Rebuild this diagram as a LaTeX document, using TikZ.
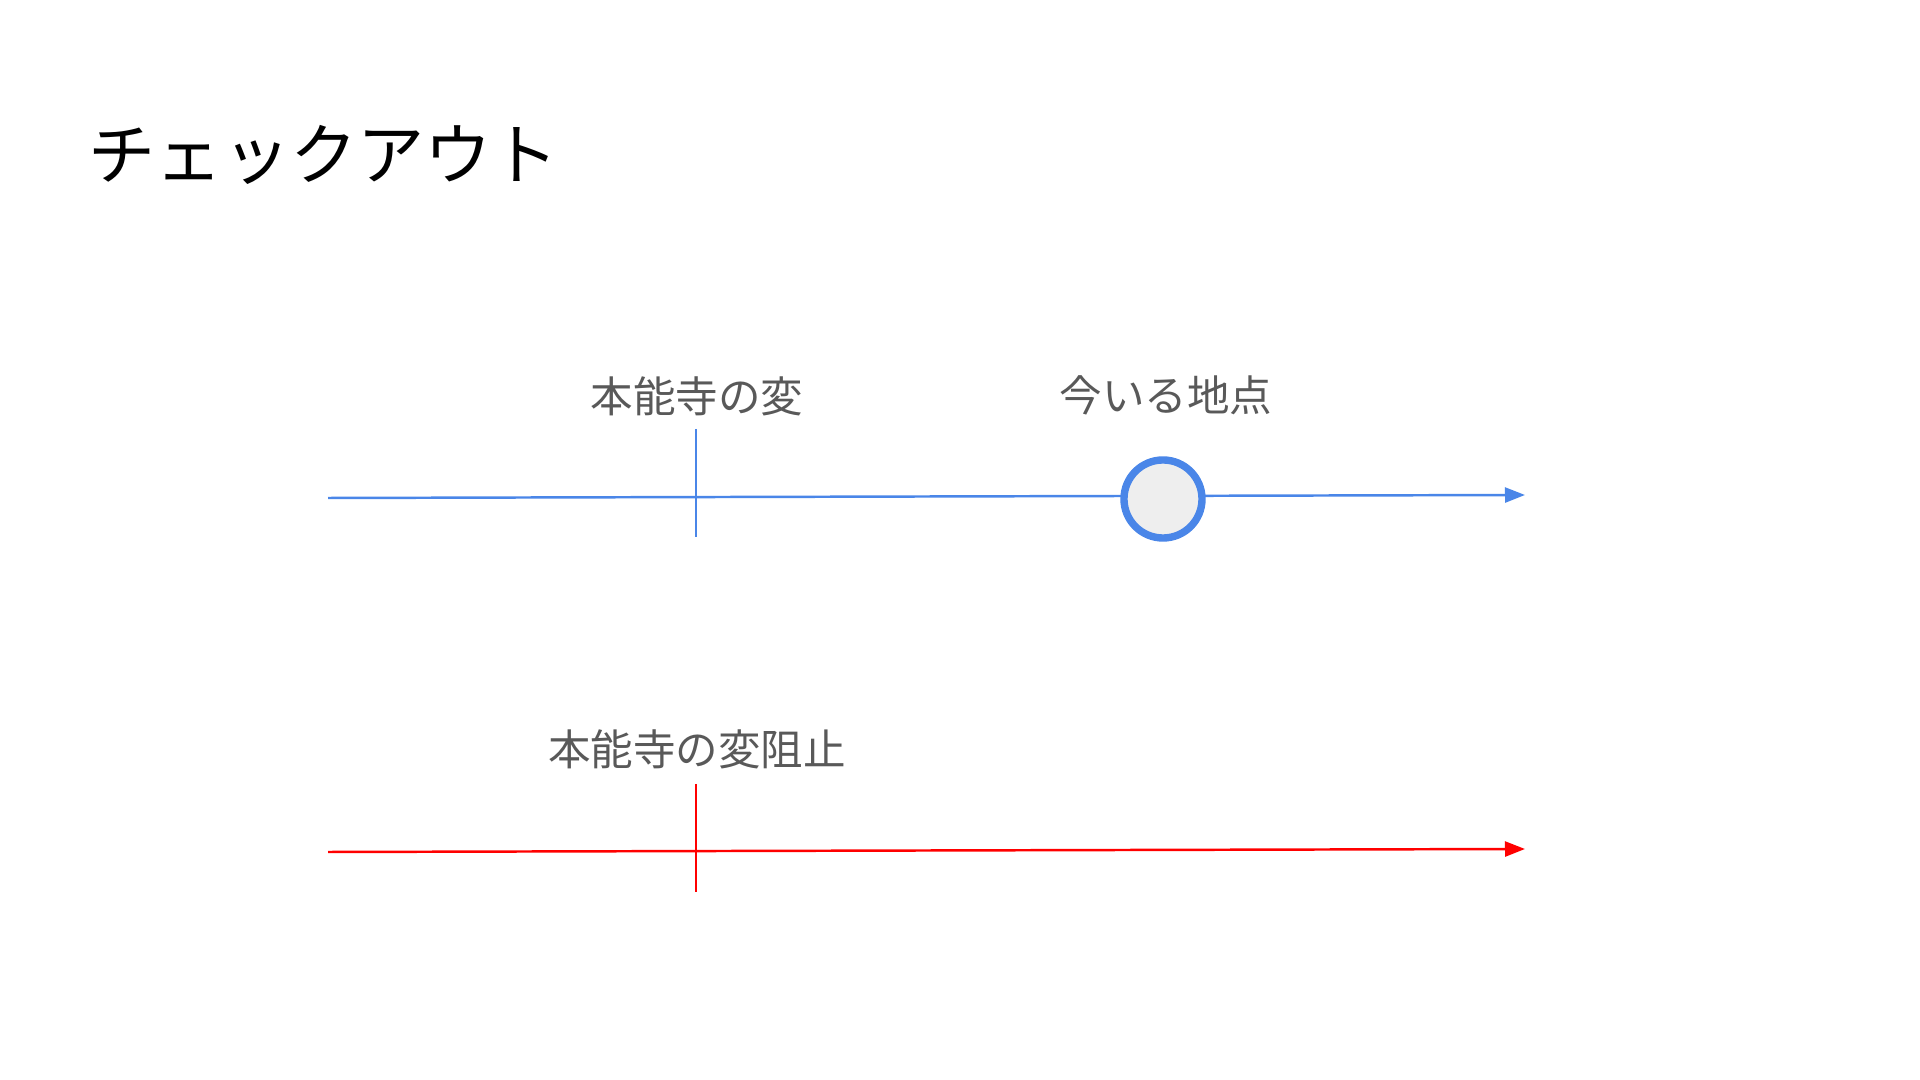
\documentclass[tikz,border=0pt]{standalone}
\usepackage{fontspec}
\newfontfamily\jpfont{Noto Sans CJK JP}
\usetikzlibrary{arrows.meta}
\definecolor{lineblue}{HTML}{4A86E8}
\definecolor{linered}{HTML}{FF0000}
\definecolor{labelgray}{HTML}{595959}
\definecolor{nowfill}{HTML}{EEEEEE}
\tikzset{
  titletext/.style={inner sep=0pt, font=\jpfont\fontsize{19.1}{23}\selectfont},
  tagtext/.style={inner sep=0pt, text=labelgray, font=\jpfont\fontsize{12.1}{15}\selectfont},
  timeline/.style={line width=0.7pt, -{Triangle[length=2mm,width=1.5mm]}},
  tickline/.style={line width=0.5pt},
  nowdot/.style={circle, draw=lineblue, fill=nowfill, line width=2.1pt, minimum size=7.8mm}
}
\begin{document}
\begin{tikzpicture}[x=0.01cm, y=-0.01cm]
    \useasboundingbox (0,0) rectangle (1920,1080);
    \node[titletext, anchor=base west] (title) at (88,180) {チェックアウト};

    % upper line
    \coordinate (bstart) at (328,498);
    \coordinate (bend) at (1525,495);
    \draw[timeline, lineblue] (bstart) -- (bend);
    \coordinate (btop) at (696,429);
    \coordinate (bbot) at (696,537);
    \draw[tickline, lineblue] (btop) -- (bbot);
    \node[tagtext] (incident) at (697,396) {本能寺の変};
    \node[nowdot] (now) at (1163,499) {};
    \node[tagtext] (nowlabel) at (1166,395) {今いる地点};

    % lower line
    \coordinate (rstart) at (328,852);
    \coordinate (rend) at (1525,849);
    \draw[timeline, linered] (rstart) -- (rend);
    \coordinate (rtop) at (696,784);
    \coordinate (rbot) at (696,892);
    \draw[tickline, linered] (rtop) -- (rbot);
    \node[tagtext] (prevent) at (697,749) {本能寺の変阻止};
\end{tikzpicture}
\end{document}
